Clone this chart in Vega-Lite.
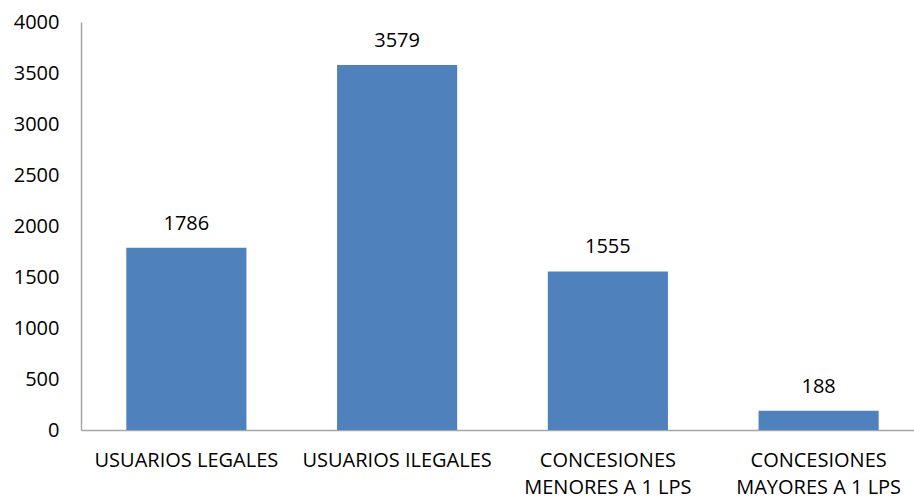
{
  "$schema": "https://vega.github.io/schema/vega-lite/v6.json",
  "autosize": {"type": "none"},
  "padding": {"left": 81, "top": 22, "right": 0, "bottom": 70},
  "width": 843,
  "height": 408,
  "background": "white",
  "config": {
    "view": {"stroke": null},
    "font": "Open Sans"
  },
  "data": {
    "values": [
      {"categoria": "USUARIOS LEGALES", "valor": 1786, "orden": 1},
      {"categoria": "USUARIOS ILEGALES", "valor": 3579, "orden": 2},
      {"categoria": "CONCESIONES MENORES A 1 LPS", "valor": 1555, "orden": 3},
      {"categoria": "CONCESIONES MAYORES A 1 LPS", "valor": 188, "orden": 4}
    ]
  },
  "encoding": {
    "x": {
      "field": "categoria",
      "type": "nominal",
      "sort": {"field": "orden"},
      "scale": {"paddingInner": 0.43, "paddingOuter": 0.215},
      "axis": {
        "title": null,
        "labelAngle": 0,
        "labelExpr": "datum.value == 'CONCESIONES MENORES A 1 LPS' ? ['CONCESIONES', 'MENORES A 1 LPS'] : datum.value == 'CONCESIONES MAYORES A 1 LPS' ? ['CONCESIONES', 'MAYORES A 1 LPS'] : datum.value",
        "labelFontSize": 20,
        "labelColor": "#000000",
        "labelPadding": 20,
        "labelLineHeight": 27,
        "ticks": false,
        "domainColor": "#A6A6A6",
        "domainWidth": 1.5,
        "labelLimit": 400
      }
    },
    "y": {
      "field": "valor",
      "type": "quantitative",
      "scale": {"domain": [0, 4000], "nice": false},
      "axis": {
        "title": null,
        "format": "d",
        "values": [0, 500, 1000, 1500, 2000, 2500, 3000, 3500, 4000],
        "grid": false,
        "ticks": false,
        "labelFontSize": 20,
        "labelColor": "#000000",
        "labelPadding": 22,
        "domainColor": "#A6A6A6",
        "domainWidth": 1.5
      }
    }
  },
  "layer": [
    {"mark": {"type": "bar", "color": "#4F81BD"}},
    {
      "mark": {"type": "text", "baseline": "bottom", "dy": -14, "fontSize": 20, "color": "#000000"},
      "encoding": {"text": {"field": "valor", "type": "quantitative"}}
    }
  ]
}
